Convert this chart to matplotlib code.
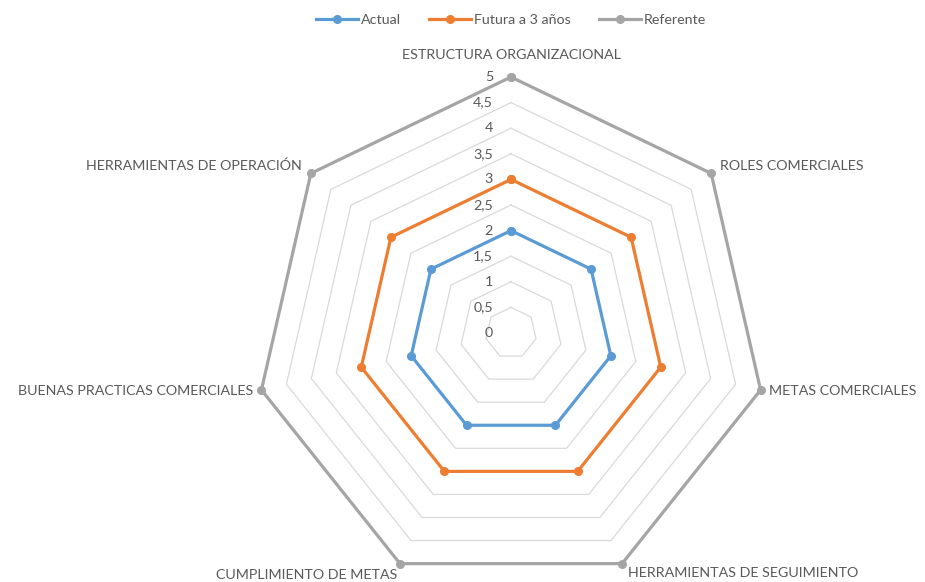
import numpy as np
import matplotlib
matplotlib.use("Agg")
import matplotlib.pyplot as plt

plt.rcParams['font.family'] = ['Lato', 'DejaVu Sans']

categorias = [
    "ESTRUCTURA ORGANIZACIONAL",
    "ROLES COMERCIALES",
    "METAS COMERCIALES",
    "HERRAMIENTAS DE SEGUIMIENTO",
    "CUMPLIMIENTO DE METAS",
    "BUENAS PRACTICAS COMERCIALES",
    "HERRAMIENTAS DE OPERACIÓN",
]
actual = [2, 2, 2, 2, 2, 2, 2]
futura = [3, 3, 3, 3, 3, 3, 3]
referente = [5, 5, 5, 5, 5, 5, 5]

niveles = [0, 0.5, 1, 1.5, 2, 2.5, 3, 3.5, 4, 4.5, 5]
niveles_txt = ["0", "0,5", "1", "1,5", "2", "2,5", "3", "3,5", "4", "4,5", "5"]

series = [
    ("Actual", actual, "#5B9BD5"),
    ("Futura a 3 años", futura, "#ED7D31"),
    ("Referente", referente, "#A5A5A5"),
]

# label placement (pixel offsets from the outer vertex)
posiciones = [
    ((0, 22), "center"),
    ((9, 7), "left"),
    ((8, -1), "left"),
    ((6, -9), "left"),
    ((-3, -11), "right"),
    ((-8, -1), "right"),
    ((-9, 8), "right"),
]

fs = 10.3
n = len(categorias)
theta = np.linspace(0, 2 * np.pi, n, endpoint=False)
theta_c = np.append(theta, theta[0])

fig = plt.figure(figsize=(9.25, 5.82), dpi=100)
ax = fig.add_axes([0.2757, -0.012, 0.5535, 0.8797], projection="polar")
ax.set_theta_offset(np.pi / 2)
ax.set_theta_direction(-1)
ax.set_ylim(0, 5)
ax.grid(False)
ax.spines["polar"].set_visible(False)
ax.set_xticks([])
ax.set_yticks([])
ax.patch.set_visible(False)

for lv in niveles[1:]:
    ax.plot(theta_c, [lv] * (n + 1), color="#D9D9D9", lw=0.9, zorder=1)

for lv, txt in zip(niveles, niveles_txt):
    ax.annotate(txt, xy=(0, lv), xytext=(-18, 0), textcoords="offset pixels",
                ha="right", va="center", fontsize=fs, color="#595959")

handles = []
for nombre, vals, color in series:
    h, = ax.plot(theta_c, vals + vals[:1], color=color, lw=2.3, marker="o",
                 markersize=5.5, label=nombre, clip_on=False, zorder=3)
    handles.append(h)

for t, cat, (off, ha) in zip(theta, categorias, posiciones):
    ax.annotate(cat, xy=(t, 5), xytext=off, textcoords="offset pixels",
                ha=ha, va="center", fontsize=fs, color="#595959",
                annotation_clip=False)

fig.legend(handles=handles, loc="upper center", bbox_to_anchor=(0.5525, 0.998),
           ncol=3, frameon=False, fontsize=fs, handlelength=2.9,
           handletextpad=0.2, columnspacing=2.0, labelcolor="#595959")

fig.savefig("out.png", dpi=100)
